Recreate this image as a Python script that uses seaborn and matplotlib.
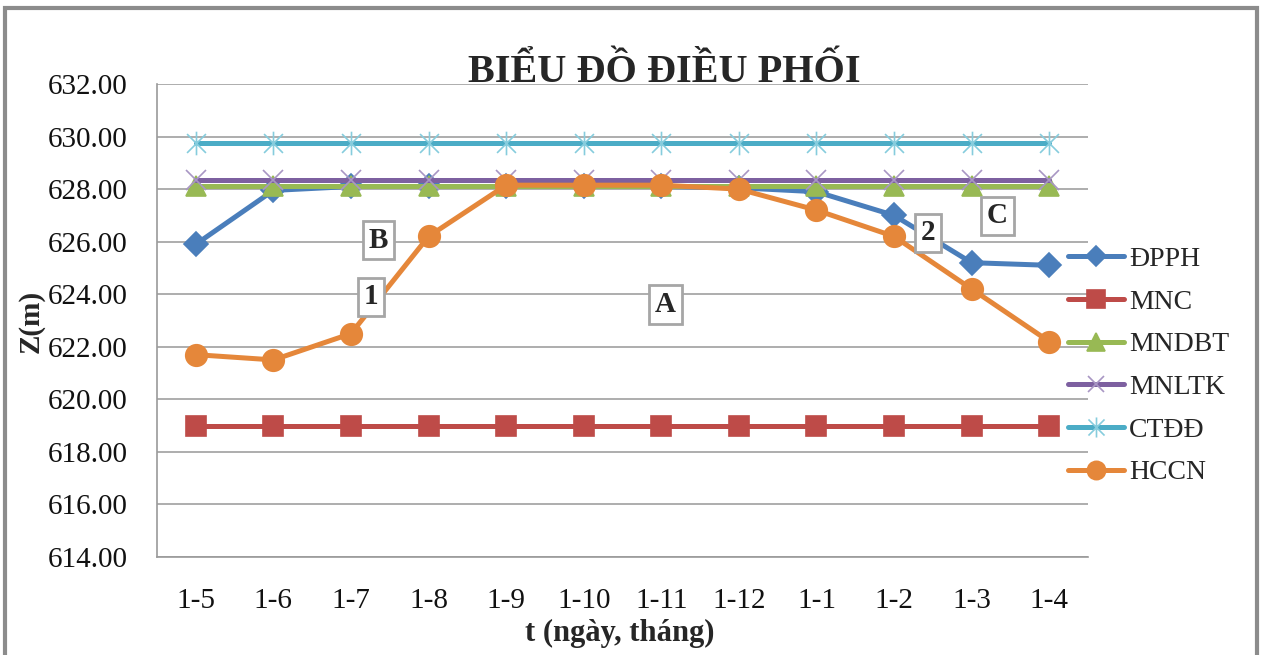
import numpy as np
import pandas as pd
import seaborn as sns
import matplotlib
matplotlib.use('Agg')
import matplotlib.pyplot as plt
from matplotlib.path import Path
from matplotlib.lines import Line2D
from matplotlib.patches import Rectangle

# data
months = ['1-5', '1-6', '1-7', '1-8', '1-9', '1-10', '1-11', '1-12', '1-1', '1-2', '1-3', '1-4']
dpph = [625.9, 627.95, 628.1, 628.1, 628.1, 628.1, 628.1, 628.05, 627.9, 627.0, 625.2, 625.1]
mnc = [619.0] * 12
mndbt = [628.1] * 12
mnltk = [628.35] * 12
ctdd = [629.75] * 12
hccn = [621.7, 621.5, 622.5, 626.2, 628.15, 628.15, 628.15, 628.0, 627.2, 626.2, 624.2, 622.2]
y_ticks = np.arange(614, 633, 2)

# annotation boxes (label, x position in categories, z level)
box_labels = ['B', '1', 'A', '2', 'C']
box_x = [2.35, 2.26, 6.05, 9.44, 10.33]
box_y = [626.06, 623.9, 623.6, 626.33, 626.98]

# excel style star marker: x plus a vertical bar
star = Path([(-1, -1), (1, 1), (-1, 1), (1, -1), (0, -1.25), (0, 1.25)],
            [Path.MOVETO, Path.LINETO, Path.MOVETO, Path.LINETO, Path.MOVETO, Path.LINETO])

series = [
    ('ĐPPH', dpph, '#4A7EBB', 'D', 12, '#4A7EBB'),
    ('MNC', mnc, '#BE4B48', 's', 15, '#BE4B48'),
    ('MNDBT', mndbt, '#98B954', '^', 15, '#98B954'),
    ('MNLTK', mnltk, '#7D60A0', 'x', 14, '#A896C4'),
    ('CTĐĐ', ctdd, '#4BACC6', star, 17, '#86CCDD'),
    ('HCCN', hccn, '#E5873A', 'o', 15.5, '#E5873A'),
]

sns.set_style('white')
plt.rcParams['font.family'] = ['Liberation Serif', 'DejaVu Serif']

fig = plt.figure(figsize=(12.63, 6.55), dpi=100)
ax = fig.add_axes([157 / 1263, 1 - 557 / 655, (1088 - 157) / 1263, (557 - 84) / 655])

handles = []
for i, (name, vals, col, mk, ms, mcol) in enumerate(series):
    df = pd.DataFrame({'t': months, 'z': vals})
    filled = not isinstance(mk, Path) and mk != 'x'
    sns.lineplot(data=df, x='t', y='z', ax=ax, sort=False, color=col, linewidth=3.6,
                 marker=mk, markersize=ms, markerfacecolor=mcol if filled else 'none',
                 markeredgecolor=mcol, markeredgewidth=1.2, zorder=3 + i)
    handles.append(Line2D([], [], color=col, linewidth=3.6, marker=mk, markersize=ms * 0.85,
                          markerfacecolor=mcol if filled else 'none', markeredgecolor=mcol,
                          markeredgewidth=1.2, solid_capstyle='round', label=name))

ax.set_xlim(-0.5, len(months) - 0.5)
ax.set_ylim(614, 632)
ax.set_yticks(y_ticks)
ax.set_yticklabels([f'{v:.2f}' for v in y_ticks])
ax.set_xticks(range(len(months)))
ax.set_xticklabels(months)
ax.set_xticks(np.arange(-0.5, len(months)), minor=True)
ax.tick_params(axis='x', which='major', length=0, pad=22, labelsize=21, labelcolor='#111111')
ax.tick_params(axis='x', which='minor', length=14, width=1, color='#9A9A9A', direction='out')
ax.tick_params(axis='y', length=9, width=1, color='#9A9A9A', direction='out', pad=12,
               labelsize=21, labelcolor='#111111')
ax.yaxis.grid(True, color='#A0A0A0', linewidth=1.2)
ax.set_axisbelow(True)
for s in ['top', 'right']:
    ax.spines[s].set_visible(False)
ax.spines['left'].set_color('#9A9A9A')
ax.spines['bottom'].set_color('#9A9A9A')
ax.spines['left'].set_linewidth(1.2)
ax.spines['bottom'].set_linewidth(1.2)
ax.set_xlabel('')
ax.set_ylabel('')

for lab, bx, by in zip(box_labels, box_x, box_y):
    ax.text(bx, by, lab, ha='center', va='center', fontsize=21, fontweight='bold', zorder=20,
            bbox=dict(boxstyle='square,pad=0.2', facecolor='white', edgecolor='#A6A6A6', linewidth=2))

fig.text(664 / 1263, 1 - 72 / 655, 'BIỂU ĐỒ ĐIỀU PHỐI', ha='center', va='center',
         fontsize=29, fontweight='bold')
fig.text(620 / 1263, 1 - 633 / 655, 't (ngày, tháng)', ha='center', va='center',
         fontsize=22, fontweight='bold')
fig.text(31 / 1263, 1 - 321 / 655, 'Z(m)', ha='center', va='center', rotation=90,
         fontsize=21, fontweight='bold')

fig.legend(handles=handles, loc='center left', bbox_to_anchor=(1068 / 1263, 1 - 366 / 655),
           frameon=False, fontsize=20, handlelength=2.0, handletextpad=0.2,
           labelspacing=0.62, borderpad=0, borderaxespad=0)

# outer chart border
fig.patches.append(Rectangle((5 / 1263, -0.05), 1252 / 1263, 1.05 - 8 / 655, transform=fig.transFigure,
                             fill=False, edgecolor='#8C8C8C', linewidth=3))

fig.savefig('out.png', dpi=100)
